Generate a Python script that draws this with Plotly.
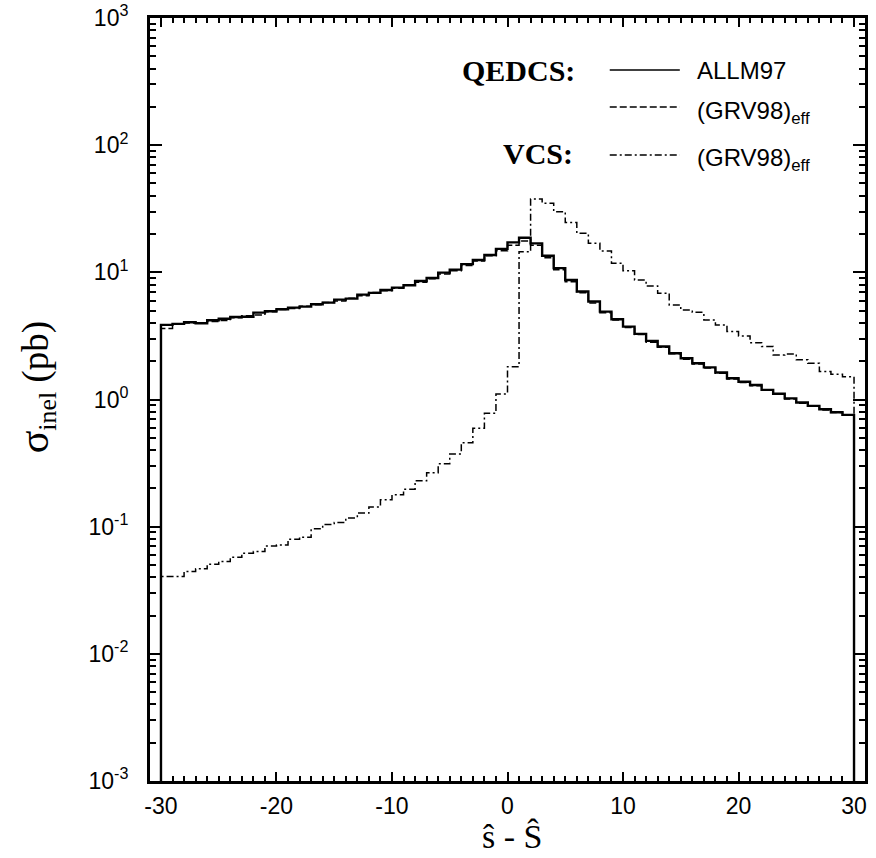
import plotly.graph_objects as go

# ---------------- data ----------------
BIN_EDGES = list(range(-30, 31))  # 60 bins of width 1

ALLM97 = [3.86, 3.93, 4.05, 3.98, 4.20, 4.32, 4.46, 4.48, 4.82, 4.94,
          5.13, 5.28, 5.37, 5.61, 5.78, 6.10, 6.21, 6.68, 6.89, 7.27,
          7.58, 7.91, 8.55, 9.03, 9.95, 10.5, 11.6, 12.5, 13.7, 15.3,
          17.2, 18.7, 16.9, 13.5, 10.8, 8.70, 7.06, 5.89, 4.91, 4.28,
          3.74, 3.28, 2.89, 2.61, 2.31, 2.11, 1.93, 1.79, 1.63, 1.47,
          1.38, 1.30, 1.19, 1.11, 1.02, 0.946, 0.891, 0.838, 0.794, 0.757]

GRV98_QEDCS = [3.62, 3.90, 4.00, 4.02, 4.10, 4.18, 4.40, 4.55, 4.62, 4.90,
               5.10, 5.20, 5.42, 5.55, 5.80, 5.95, 6.25, 6.55, 6.95, 7.15,
               7.50, 7.95, 8.35, 8.90, 9.70, 10.3, 11.3, 12.3, 13.5, 14.8,
               16.3, 17.6, 16.3, 13.0, 10.5, 8.45, 6.90, 5.75, 4.80, 4.22,
               3.68, 3.24, 2.82, 2.57, 2.29, 2.07, 1.90, 1.77, 1.61, 1.45,
               1.36, 1.28, 1.18, 1.10, 1.01, 0.935, 0.884, 0.828, 0.790, 0.752]

GRV98_VCS = [0.0405, 0.0405, 0.0444, 0.0466, 0.0507, 0.0532, 0.0575, 0.0619, 0.0637, 0.0706,
             0.0719, 0.0797, 0.0827, 0.0961, 0.104, 0.108, 0.117, 0.128, 0.143, 0.163,
             0.178, 0.197, 0.230, 0.266, 0.312, 0.373, 0.458, 0.594, 0.780, 1.107,
             1.81, 14.5, 37.8, 34.9, 30.0, 24.6, 20.3, 16.9, 14.7, 11.8,
             10.3, 8.70, 7.80, 6.85, 5.54, 5.06, 4.85, 4.22, 3.86, 3.42,
             3.16, 2.80, 2.61, 2.24, 2.28, 2.05, 1.93, 1.66, 1.58, 1.51]

X_TICK_VALS = [-30, -20, -10, 0, 10, 20, 30]
X_TICK_TEXT = ["-30", "-20", "-10", "0", "10", "20", "30"]
Y_TICK_VALS = [1e-3, 1e-2, 1e-1, 1e0, 1e1, 1e2, 1e3]
Y_TICK_TEXT = ["10<sup>-3</sup>", "10<sup>-2</sup>", "10<sup>-1</sup>", "10<sup>0</sup>",
               "10<sup>1</sup>", "10<sup>2</sup>", "10<sup>3</sup>"]
Y_FLOOR = 1e-3

SERIES_LABELS = ["ALLM97", "(GRV98)<sub>eff</sub>", "(GRV98)<sub>eff</sub>"]
GROUP_LABELS = ["QEDCS:", "VCS:"]


def step_xy(values):
    xs = [BIN_EDGES[0]] + BIN_EDGES + [BIN_EDGES[-1]]
    ys = [Y_FLOOR] + list(values) + [values[-1], Y_FLOOR]
    return xs, ys


fig = go.Figure()
styles = [
    (ALLM97, dict(color="black", width=2.4, dash="solid")),
    (GRV98_QEDCS, dict(color="black", width=1.5, dash="7px,3px")),
    (GRV98_VCS, dict(color="black", width=1.5, dash="7px,3px,2px,3px")),
]
for vals, ln in styles:
    xs, ys = step_xy(vals)
    fig.add_trace(go.Scatter(x=xs, y=ys, mode="lines", line=dict(shape="hv", **ln),
                             showlegend=False, hoverinfo="skip"))

SANS = "Liberation Sans"
SERIF = "Liberation Serif"

minor_y = [m * 10 ** k for k in range(-3, 3) for m in range(2, 10)]

fig.update_layout(
    width=876, height=858,
    margin=dict(l=150, r=11, t=18, b=77, autoexpand=False),
    paper_bgcolor="white", plot_bgcolor="white",
    showlegend=False,
    xaxis=dict(
        range=[-30.95, 30.95], tickmode="array", tickvals=X_TICK_VALS, ticktext=X_TICK_TEXT,
        ticks="inside", ticklen=9, tickwidth=2, tickcolor="black",
        showline=True, linewidth=3, linecolor="black", mirror="allticks",
        showgrid=False, zeroline=False, automargin=False, ticklabeloverflow="allow",
        tickfont=dict(family=SANS, size=23, color="black"),
        ticklabelstandoff=2,
        minor=dict(tickmode="linear", tick0=0, dtick=1, ticks="inside", ticklen=5,
                   tickwidth=1.5, tickcolor="black", showgrid=False),
    ),
    yaxis=dict(
        type="log", range=[-3, 3], tickmode="array", tickvals=Y_TICK_VALS, ticktext=Y_TICK_TEXT,
        ticks="inside", ticklen=12, tickwidth=2, tickcolor="black",
        showline=True, linewidth=3, linecolor="black", mirror="allticks",
        showgrid=False, zeroline=False, automargin=False, ticklabeloverflow="allow",
        tickfont=dict(family=SANS, size=23, color="black"),
        ticklabelstandoff=14,
        minor=dict(tickmode="array", tickvals=minor_y, ticks="inside", ticklen=6,
                   tickwidth=1.5, tickcolor="black", showgrid=False),
    ),
)

# axis titles as annotations
fig.add_annotation(text='<span style="font-size:42px">σ</span><sub>inel</sub> (pb)',
                   xref="paper", yref="paper",
                   x=-0.1594, y=0.516, textangle=-90, showarrow=False,
                   xanchor="center", yanchor="middle", borderpad=0,
                   font=dict(family=SERIF, size=37, color="black"))
fig.add_annotation(text="ŝ - Ŝ", xref="paper", yref="paper",
                   x=0.506, y=-0.0721, showarrow=False, xanchor="center", yanchor="middle",
                   borderpad=0,
                   font=dict(family=SERIF, size=34, color="black"))

# legend (drawn manually)
row_y_line = [0.9318, 0.8834, 0.8204]
row_y_text = [0.9318, 0.8768, 0.8139]
dashes = ["solid", "7px,3px", "7px,3px,2px,3px"]
for i in range(3):
    fig.add_shape(type="line", xref="paper", yref="paper", x0=0.643, x1=0.741,
                  y0=row_y_line[i], y1=row_y_line[i],
                  line=dict(color="black", width=1.5, dash=dashes[i]))
    fig.add_annotation(text=SERIES_LABELS[i], xref="paper", yref="paper", x=0.762, y=row_y_text[i],
                       showarrow=False, xanchor="left", yanchor="middle",
                       font=dict(family=SANS, size=24, color="black"))
fig.add_annotation(text="<b>" + GROUP_LABELS[0] + "</b>", xref="paper", yref="paper", x=0.597, y=0.9318,
                   showarrow=False, xanchor="right", yanchor="middle",
                   font=dict(family=SERIF, size=30, color="black"))
fig.add_annotation(text="<b>" + GROUP_LABELS[1] + "</b>", xref="paper", yref="paper", x=0.594, y=0.8218,
                   showarrow=False, xanchor="right", yanchor="middle",
                   font=dict(family=SERIF, size=30, color="black"))

# remove the default 8px page margin so the figure fills the window exactly
fig.write_html("out.html", config={"displayModeBar": False},
               post_script="document.body.style.margin='0';")
